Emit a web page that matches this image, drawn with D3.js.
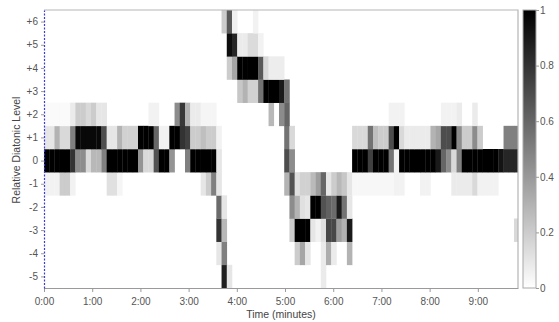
<!DOCTYPE html>
<html>
<head>
<meta charset="utf-8">
<script src="https://cdn.jsdelivr.net/npm/d3@7"></script>
<style>
  body { margin: 0; background: #fff; }
  text { font-family: 'Liberation Sans', Arial, sans-serif; }
</style>
</head>
<body>
<svg id="chart" width="559" height="322"></svg>
<script>
// seconds per time bin
const BIN_SEC = 6.5
const levels = [-5, -4, -3, -2, -1, 0, 1, 2, 3, 4, 5, 6]
const timeTicks = [0, 60, 120, 180, 240, 300, 360, 420, 480, 540]
const colorTicks = [0, 0.2, 0.4, 0.6, 0.8, 1]

// runs per level: [firstBin, lastBin, value]
const levelP6 = [[34, 34, 0.2], [35, 35, 0.65], [36, 36, 0.06], [40, 40, 0.05]]
const levelP5 = [[35, 35, 0.95], [36, 36, 0.85], [37, 38, 0.08], [39, 40, 0.14], [41, 41, 0.05]]
const levelP4 = [[35, 35, 0.2], [36, 36, 0.35], [37, 40, 1], [41, 41, 0.65], [42, 42, 0.15], [43, 45, 0.07]]
const levelP3 = [[37, 37, 0.22], [38, 38, 0.3], [39, 40, 0.18], [41, 41, 0.55], [42, 44, 1], [45, 45, 0.9], [46, 46, 0.55]]
const levelP2 = [
  [0, 4, 0.02], [5, 5, 0.08], [6, 7, 0.2], [8, 8, 0.15], [9, 9, 0.2], [10, 11, 0.1], [20, 21, 0.05],
  [25, 25, 0.45], [26, 26, 0.78], [27, 27, 0.3], [28, 29, 0.08], [30, 32, 0.04], [43, 43, 0.28],
  [45, 45, 0.45], [46, 46, 0.6], [66, 68, 0.05], [76, 78, 0.05], [79, 79, 0.08], [82, 82, 0.08],
]
const levelP1 = [
  [0, 1, 0.1], [2, 2, 0.3], [3, 4, 0.15], [5, 5, 0.5], [6, 10, 0.97], [11, 11, 0.7], [12, 13, 0.1],
  [14, 14, 0.3], [15, 17, 0.18], [18, 20, 1], [21, 21, 0.6], [22, 23, 0.05], [24, 25, 1], [26, 26, 0.8],
  [27, 27, 0.75], [28, 29, 0.2], [30, 30, 0.25], [31, 32, 0.2], [33, 33, 0.05], [46, 46, 0.55],
  [47, 47, 0.15], [59, 61, 0.15], [62, 62, 0.55], [63, 63, 0.25], [64, 65, 0.2], [66, 66, 0.7],
  [67, 67, 1], [68, 68, 0.15], [69, 73, 0.08], [74, 74, 0.3], [75, 75, 0.35], [76, 77, 0.7],
  [78, 78, 1], [79, 79, 0.45], [80, 81, 0.2], [82, 82, 0.45], [83, 83, 0.2], [88, 90, 0.5],
]
const level0 = [
  [0, 4, 1], [5, 5, 0.8], [6, 7, 0.45], [8, 8, 0.15], [9, 10, 0.28], [11, 11, 0.5], [12, 17, 1],
  [18, 18, 0.42], [19, 20, 0.15], [21, 21, 0.68], [22, 23, 1], [24, 24, 0.42], [27, 27, 0.5],
  [28, 32, 1], [33, 33, 0.1], [46, 46, 0.7], [47, 47, 0.45], [59, 61, 1], [62, 62, 0.75],
  [63, 65, 1], [66, 66, 0.55], [67, 67, 0.05], [68, 74, 1], [75, 75, 0.9], [76, 76, 0.6],
  [77, 77, 0.45], [78, 78, 0.15], [79, 79, 0.5], [80, 86, 1], [87, 87, 0.92], [88, 90, 0.85],
]
const levelM1 = [
  [0, 2, 0.05], [3, 4, 0.2], [5, 5, 0.05], [12, 13, 0.12], [14, 14, 0.04], [30, 30, 0.1],
  [31, 31, 0.2], [32, 32, 0.5], [33, 33, 0.1], [46, 46, 0.3], [47, 47, 0.68], [48, 48, 0.12],
  [49, 50, 0.18], [51, 51, 0.27], [52, 52, 0.38], [53, 53, 0.6], [54, 54, 0.1], [55, 55, 0.2],
  [56, 56, 0.28], [57, 57, 0.22], [58, 58, 0.1], [59, 66, 0.03], [67, 68, 0.05], [72, 73, 0.05],
  [78, 81, 0.08], [82, 82, 0.15], [83, 86, 0.05],
]
const levelM2 = [
  [33, 33, 0.58], [34, 34, 0.1], [47, 47, 0.45], [48, 48, 0.3], [49, 49, 0.12], [50, 50, 0.1],
  [51, 52, 1], [53, 53, 0.68], [54, 54, 0.62], [55, 55, 0.58], [56, 56, 0.9], [57, 57, 0.55], [58, 58, 0.1],
]
const levelM3 = [
  [33, 33, 0.8], [34, 34, 0.28], [47, 47, 0.2], [48, 50, 1], [51, 51, 0.1], [52, 52, 0.05],
  [53, 53, 0.12], [54, 55, 0.72], [56, 56, 0.38], [57, 57, 0.3], [58, 58, 0.9], [90, 90, 0.15],
]
const levelM4 = [
  [33, 33, 0.1], [34, 34, 0.5], [48, 48, 0.2], [49, 49, 0.35], [50, 50, 0.1], [53, 53, 0.08],
  [54, 54, 0.32], [55, 55, 0.08], [58, 58, 0.3],
]
const levelM5 = [[34, 34, 0.88], [35, 35, 0.1], [53, 53, 0.08]]

const runsByLevel = new Map([
  [6, levelP6], [5, levelP5], [4, levelP4], [3, levelP3], [2, levelP2], [1, levelP1],
  [0, level0], [-1, levelM1], [-2, levelM2], [-3, levelM3], [-4, levelM4], [-5, levelM5],
])

const cells = levels.flatMap((level) =>
  runsByLevel.get(level).flatMap(([from, to, value]) =>
    d3.range(from, to + 1).map((bin) => ({ level, bin, value }))
  )
)

const margin = { top: 10, right: 41, bottom: 34, left: 44 }
const width = 559
const height = 322
const plotRight = width - margin.right
const plotBottom = height - margin.bottom

const x = d3.scaleLinear().domain([0, 590]).range([margin.left, plotRight])
const y = d3.scaleLinear().domain([-5.5, 6.5]).range([plotBottom, margin.top])
const color = d3.scaleLinear().domain([0, 1]).range(['#ffffff', '#000000'])

const svg = d3.select('#chart')

svg.append('defs')
  .append('clipPath')
  .attr('id', 'plot-clip')
  .append('rect')
  .attr('x', margin.left)
  .attr('y', margin.top)
  .attr('width', plotRight - margin.left)
  .attr('height', plotBottom - margin.top)

svg.append('g')
  .attr('clip-path', 'url(#plot-clip)')
  .selectAll('rect')
  .data(cells)
  .join('rect')
  .attr('x', (d) => x(d.bin * BIN_SEC))
  .attr('y', (d) => y(d.level + 0.5))
  .attr('width', (d) => x((d.bin + 1) * BIN_SEC) - x(d.bin * BIN_SEC) + 0.3)
  .attr('height', (d) => y(d.level - 0.5) - y(d.level + 0.5) + 0.3)
  .attr('fill', (d) => color(d.value))

// frame: top and right in grey
svg.append('path')
  .attr('d', `M${margin.left},${margin.top}H${plotRight}V${plotBottom}`)
  .attr('fill', 'none')
  .attr('stroke', '#b5b5b5')
  .attr('stroke-width', 1.2)

const fmtTime = (s) => `${Math.floor(s / 60)}:${String(s % 60).padStart(2, '0')}`

const xAxis = svg.append('g')
  .attr('transform', `translate(0,${plotBottom})`)
  .call(d3.axisBottom(x).tickValues(timeTicks).tickFormat(fmtTime).tickSize(4).tickSizeOuter(0))
xAxis.select('.domain').attr('stroke', '#9a9a9a').attr('stroke-width', 1.2)
xAxis.selectAll('.tick line').attr('stroke', '#9a9a9a')
xAxis.selectAll('.tick text').attr('fill', '#555').attr('font-size', 10).attr('dy', '0.95em')

const yAxis = svg.append('g')
  .attr('transform', `translate(${margin.left},0)`)
  .call(d3.axisLeft(y).tickValues(levels).tickFormat((d) => (d > 0 ? `+${d}` : `${d}`)).tickSize(3).tickSizeOuter(0))
yAxis.select('.domain').attr('stroke', '#3b3bd6').attr('stroke-width', 1.2).attr('stroke-dasharray', '2,1.5')
yAxis.selectAll('.tick line').attr('stroke', '#9a9a9a')
yAxis.selectAll('.tick text').attr('fill', '#555').attr('font-size', 10)

svg.append('text')
  .attr('transform', `translate(20,${(margin.top + plotBottom) / 2 + 1}) rotate(-90)`)
  .attr('text-anchor', 'middle')
  .attr('fill', '#444')
  .attr('font-size', 10.5)
  .text('Relative Diatonic Level')

svg.append('text')
  .attr('x', (margin.left + plotRight) / 2)
  .attr('y', 318)
  .attr('text-anchor', 'middle')
  .attr('fill', '#444')
  .attr('font-size', 10.5)
  .text('Time (minutes)')

// colour bar
const barX = 523
const barW = 13
const cy = d3.scaleLinear().domain([0, 1]).range([plotBottom, margin.top])

const grad = svg.select('defs')
  .append('linearGradient')
  .attr('id', 'bar-grad')
  .attr('x1', 0).attr('y1', 1).attr('x2', 0).attr('y2', 0)
grad.selectAll('stop')
  .data(colorTicks)
  .join('stop')
  .attr('offset', (d) => d)
  .attr('stop-color', (d) => color(d))

svg.append('rect')
  .attr('x', barX)
  .attr('y', margin.top)
  .attr('width', barW)
  .attr('height', plotBottom - margin.top)
  .attr('fill', 'url(#bar-grad)')
  .attr('stroke', '#a8a8a8')
  .attr('stroke-width', 1)

const cAxis = svg.append('g')
  .attr('transform', `translate(${barX + barW},0)`)
  .call(d3.axisRight(cy).tickValues(colorTicks).tickFormat(d3.format('')).tickSize(3).tickSizeOuter(0))
cAxis.select('.domain').remove()
cAxis.selectAll('.tick line').attr('stroke', '#9a9a9a')
cAxis.selectAll('.tick text').attr('fill', '#555').attr('font-size', 10).attr('x', 4)
</script>
</body>
</html>
